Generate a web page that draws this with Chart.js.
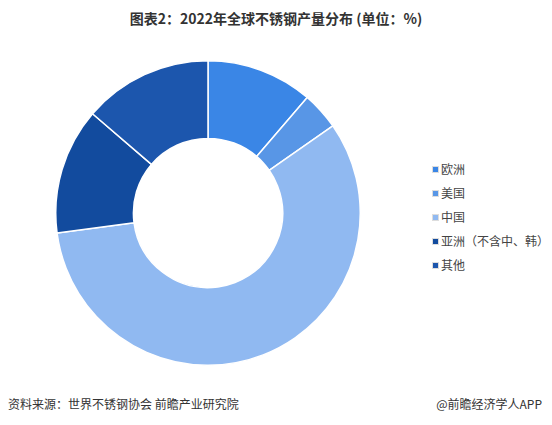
<!DOCTYPE html><html><head><meta charset="utf-8">
<script src="https://cdn.jsdelivr.net/npm/chart.js@4"></script>
<style>
body{margin:0;width:552px;height:425px;background:#fff;font-family:"Noto Sans CJK SC",sans-serif;position:relative;overflow:hidden}
#t{position:absolute;top:8px;left:0;width:552px;text-align:center;font-size:14px;font-weight:bold;color:#333}
#c{position:absolute;left:53px;top:58px;width:310px;height:310px}
#lg{position:absolute;left:432px;top:157px;font-size:12px;color:#444}
#lg div{height:24px;line-height:16px;display:flex;align-items:center}
#lg span{display:inline-block;width:5px;height:5px;border:1px solid #ddd;margin-right:2px}
#s{position:absolute;left:8px;top:395px;font-size:12px;color:#333}
#a{position:absolute;right:10px;top:395px;font-size:12px;color:#333}
</style></head><body>
<div id="t">图表2：2022年全球不锈钢产量分布 (单位：%)</div>
<div id="c"><canvas id="cv"></canvas></div>
<div id="lg"></div>
<div id="s">资料来源：世界不锈钢协会 前瞻产业研究院</div>
<div id="a">@前瞻经济学人APP</div>
<script>
const labels=["欧洲","美国","中国","亚洲（不含中、韩）","其他"];
const values=[11.3,4.0,57.6,13.4,13.7];
const colors=["#3a86e6","#5896e6","#90b9f1","#124b9e","#1c56ad"];
new Chart(document.getElementById('cv'),{type:'doughnut',data:{labels,datasets:[{data:values,backgroundColor:colors,borderColor:'#fff',borderWidth:1.5}]},
options:{responsive:true,maintainAspectRatio:false,animation:false,cutout:'49%',layout:{padding:2},plugins:{legend:{display:false},tooltip:{enabled:false}}}});
const lg=document.getElementById('lg');
labels.forEach((l,i)=>{const d=document.createElement('div');d.innerHTML=`<span style="background:${colors[i]}"></span>${l}`;lg.appendChild(d);});
</script></body></html>
